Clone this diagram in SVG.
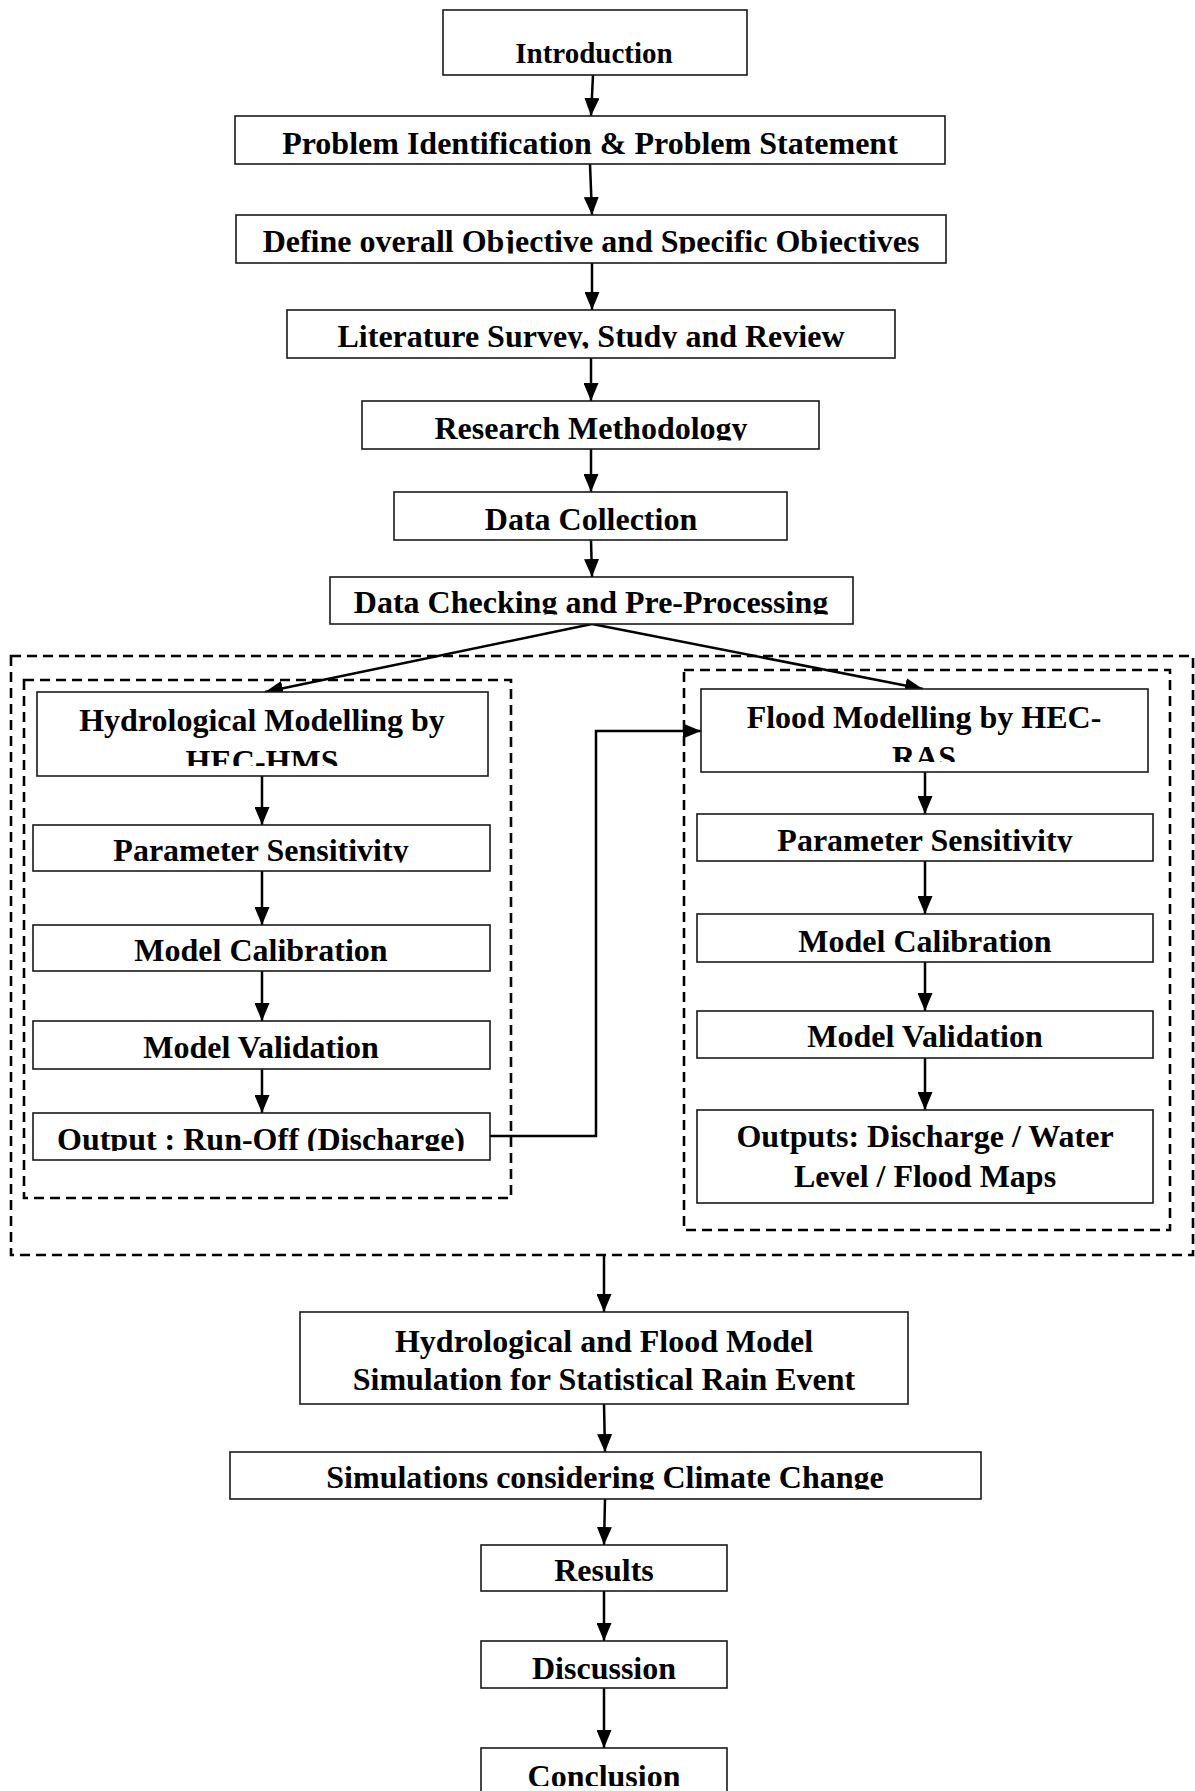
<svg xmlns="http://www.w3.org/2000/svg" width="1195" height="1791" viewBox="0 0 1195 1791">
<style>
.box{fill:#fff;stroke:#1a1a1a;stroke-width:1.6}
.grp{fill:none;stroke:#000;stroke-width:2.6;stroke-dasharray:10 6}
.t{font-family:"Liberation Serif","Times New Roman",serif;font-weight:bold;font-size:32px;fill:#000;text-anchor:middle}
.c{fill:none;stroke:#000;stroke-width:2.5;marker-end:url(#ah)}
</style>
<defs>
<marker id="ah" markerUnits="userSpaceOnUse" markerWidth="18" markerHeight="15" refX="18" refY="7.5" orient="auto">
<path d="M0,0 L18,7.5 L0,15 z" fill="#000"/>
</marker>
<clipPath id="k1"><rect x="0" y="116" width="1195" height="40"/></clipPath>
<clipPath id="k2"><rect x="0" y="215" width="1195" height="38.5"/></clipPath>
<clipPath id="k3"><rect x="0" y="310" width="1195" height="38.5"/></clipPath>
<clipPath id="k4"><rect x="0" y="401" width="1195" height="39.5"/></clipPath>
<clipPath id="k5"><rect x="0" y="577" width="1195" height="37.5"/></clipPath>
<clipPath id="k6"><rect x="0" y="692" width="1195" height="74"/></clipPath>
<clipPath id="k7"><rect x="0" y="825" width="1195" height="37.5"/></clipPath>
<clipPath id="k8"><rect x="0" y="1113" width="1195" height="38"/></clipPath>
<clipPath id="k9"><rect x="0" y="689" width="1195" height="73"/></clipPath>
<clipPath id="k10"><rect x="0" y="814" width="1195" height="38.5"/></clipPath>
<clipPath id="k11"><rect x="0" y="1452" width="1195" height="37.5"/></clipPath>
<clipPath id="k12"><rect x="0" y="1748" width="1195" height="38"/></clipPath>
</defs>
<rect width="1195" height="1791" fill="#fff"/>

<g id="groups">
<rect id="outer-group" class="grp" x="11" y="656" width="1182" height="599"/>
<rect id="hms-group" class="grp" x="24" y="680" width="487" height="518"/>
<rect id="ras-group" class="grp" x="684" y="670" width="486" height="560"/>
</g>

<g id="connectors">
<line class="c" x1="593" y1="75" x2="591" y2="116"/>
<line class="c" x1="590" y1="164" x2="592" y2="215"/>
<line class="c" x1="592" y1="263" x2="592" y2="310"/>
<line class="c" x1="591" y1="358" x2="591" y2="401"/>
<line class="c" x1="591" y1="449" x2="591" y2="492"/>
<line class="c" x1="591" y1="540" x2="592" y2="577"/>
<line class="c" x1="592" y1="624" x2="265" y2="692"/>
<line class="c" x1="592" y1="624" x2="923" y2="689"/>
<line class="c" x1="262" y1="776" x2="262" y2="825"/>
<line class="c" x1="262" y1="871" x2="262" y2="925"/>
<line class="c" x1="262" y1="971" x2="262" y2="1021"/>
<line class="c" x1="262" y1="1069" x2="262" y2="1113"/>
<line class="c" x1="925" y1="772" x2="925" y2="814"/>
<line class="c" x1="925" y1="861" x2="925" y2="914"/>
<line class="c" x1="925" y1="962" x2="925" y2="1011"/>
<line class="c" x1="925" y1="1058" x2="925" y2="1110"/>
<polyline class="c" points="490,1136 596,1136 596,731 701,731"/>
<line class="c" x1="604" y1="1255" x2="604" y2="1312"/>
<line class="c" x1="604" y1="1404" x2="605" y2="1452"/>
<line class="c" x1="605" y1="1499" x2="604" y2="1545"/>
<line class="c" x1="604" y1="1591" x2="604" y2="1641"/>
<line class="c" x1="604" y1="1688" x2="604" y2="1748"/>
</g>

<g id="n-introduction"><rect class="box" x="443" y="10" width="304" height="65"/><text class="t" x="594" y="63" style="font-size:29px">Introduction</text></g>
<g id="n-problem"><rect class="box" x="235" y="116" width="710" height="48"/><text class="t" x="590" y="154" clip-path="url(#k1)">Problem Identification &amp; Problem Statement</text></g>
<g id="n-objectives"><rect class="box" x="236" y="215" width="710" height="48"/><text class="t" x="591" y="252" clip-path="url(#k2)">Define overall Objective and Specific Objectives</text></g>
<g id="n-literature"><rect class="box" x="287" y="310" width="608" height="48"/><text class="t" x="591" y="347" clip-path="url(#k3)">Literature Survey, Study and Review</text></g>
<g id="n-methodology"><rect class="box" x="362" y="401" width="457" height="48"/><text class="t" x="591" y="439" clip-path="url(#k4)">Research Methodology</text></g>
<g id="n-collection"><rect class="box" x="394" y="492" width="393" height="48"/><text class="t" x="591" y="530">Data Collection</text></g>
<g id="n-checking"><rect class="box" x="330" y="577" width="523" height="47"/><text class="t" x="591" y="613" clip-path="url(#k5)">Data Checking and Pre-Processing</text></g>

<g id="n-hms"><rect class="box" x="37" y="692" width="451" height="84"/><text class="t" clip-path="url(#k6)"><tspan x="262" y="731">Hydrological Modelling by</tspan><tspan x="262" y="772">HEC-HMS</tspan></text></g>
<g id="n-hms-sensitivity"><rect class="box" x="33" y="825" width="457" height="46"/><text class="t" x="261" y="861" clip-path="url(#k7)">Parameter Sensitivity</text></g>
<g id="n-hms-calibration"><rect class="box" x="33" y="925" width="457" height="46"/><text class="t" x="261" y="961">Model Calibration</text></g>
<g id="n-hms-validation"><rect class="box" x="33" y="1021" width="457" height="48"/><text class="t" x="261" y="1058">Model Validation</text></g>
<g id="n-hms-output"><rect class="box" x="33" y="1113" width="457" height="47"/><text class="t" x="261" y="1150" clip-path="url(#k8)">Output : Run-Off (Discharge)</text></g>

<g id="n-ras"><rect class="box" x="701" y="689" width="447" height="83"/><text class="t" clip-path="url(#k9)"><tspan x="924" y="728">Flood Modelling by HEC-</tspan><tspan x="924" y="768">RAS</tspan></text></g>
<g id="n-ras-sensitivity"><rect class="box" x="697" y="814" width="456" height="47"/><text class="t" x="925" y="851" clip-path="url(#k10)">Parameter Sensitivity</text></g>
<g id="n-ras-calibration"><rect class="box" x="697" y="914" width="456" height="48"/><text class="t" x="925" y="952">Model Calibration</text></g>
<g id="n-ras-validation"><rect class="box" x="697" y="1011" width="456" height="47"/><text class="t" x="925" y="1047">Model Validation</text></g>
<g id="n-ras-outputs"><rect class="box" x="697" y="1110" width="456" height="93"/><text class="t"><tspan x="925" y="1147">Outputs: Discharge / Water</tspan><tspan x="925" y="1187">Level / Flood Maps</tspan></text></g>

<g id="n-simulation"><rect class="box" x="300" y="1312" width="608" height="92"/><text class="t"><tspan x="604" y="1352">Hydrological and Flood Model</tspan><tspan x="604" y="1390">Simulation for Statistical Rain Event</tspan></text></g>
<g id="n-climate"><rect class="box" x="230" y="1452" width="751" height="47"/><text class="t" x="605" y="1488" clip-path="url(#k11)">Simulations considering Climate Change</text></g>
<g id="n-results"><rect class="box" x="481" y="1545" width="246" height="46"/><text class="t" x="604" y="1581">Results</text></g>
<g id="n-discussion"><rect class="box" x="481" y="1641" width="246" height="47"/><text class="t" x="604" y="1679">Discussion</text></g>
<g id="n-conclusion"><rect class="box" x="481" y="1748" width="246" height="60"/><text class="t" x="604" y="1787" clip-path="url(#k12)">Conclusion</text></g>
</svg>
